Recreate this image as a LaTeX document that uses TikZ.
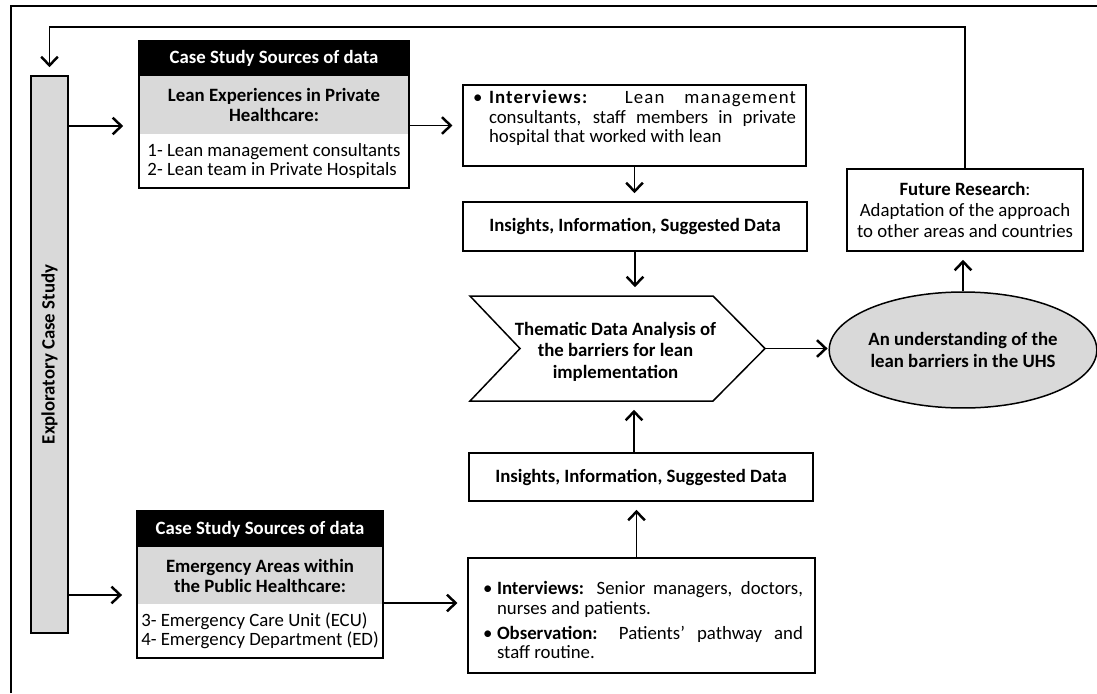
\documentclass[tikz,border=0pt]{standalone}
\usepackage{fontspec}
\setmainfont{Carlito}
\usetikzlibrary{arrows.meta,shapes.geometric,calc}
\definecolor{lg}{HTML}{D9D9D9}
\begin{document}
\begin{tikzpicture}[x=0.02cm,y=-0.02cm,
  every node/.style={font=\fontsize{10.7}{11}\selectfont},
  bfnt/.style={font=\fontsize{10.7}{11}\selectfont\bfseries},
  bfwide/.style={font=\fontsize{10.7}{12.2}\selectfont\bfseries},
  rect/.style n args={4}{at={({(#1+#3)/2},{(#2+#4)/2})}, minimum width={(#3-#1)*0.02cm}, minimum height={(#4-#2)*0.02cm}, inner sep=0pt, outer sep=0pt},
  box/.style={draw, line width=0.85pt},
  hdr/.style={fill=black, text=white, bfnt},
  greyb/.style={fill=lg, align=center, font=\fontsize{10.7}{11.4}\selectfont\bfseries},
  bultext/.style={anchor=north, inner sep=0pt, align=justify, font=\fontsize{10.7}{11.2}\selectfont},
  arr/.style={line width=0.85pt, -{Straight Barb[length=5pt,width=9.5pt,line width=1.4pt]}, shorten >=5pt}
]
\useasboundingbox (0,0) rectangle (1097,693);
% outer frame
\draw[line width=1.2pt] (11,693) -- (11,6) -- (1097,6);

% vertical bar
\node[box, fill=lg, rect={31}{76}{68}{633}] (bar) {};
\node[rotate=90, bfnt] (barlabel) at (bar.center) {Exploratory Case Study};

% case study box 1
\node[hdr, rect={139}{41}{409}{76}] (c1h) {Case Study Sources of data};
\node[greyb, rect={139}{76}{409}{134}] (c1g) {Lean Experiences in Private\\Healthcare:};
\node[align=left, rect={139}{134}{409}{188}] (c1l) {1- Lean management consultants\\2- Lean team in Private Hospitals};
\node[box, rect={139}{41}{409}{188}] (case1) {};

% case study box 2
\node[hdr, rect={137}{511}{383}{547}] (c2h) {Case Study Sources of data};
\node[greyb, rect={137}{547}{383}{604}] (c2g) {Emergency Areas within\\the Public Healthcare:};
\node[align=left, rect={137}{604}{383}{658}] (c2l) {3- Emergency Care Unit (ECU)\\4- Emergency Department (ED)};
\node[box, rect={137}{511}{383}{658}] (case2) {};

% interviews 1
\node[box, rect={463}{85}{806}{166}] (int1) {};
\node[bultext, text width=6.46cm] (int1txt) at ($(int1.north)+(0,5)$)
 {\leftskip=0.32cm\noindent\llap{\makebox[0.32cm][l]{\textbullet}}{\addfontfeature{LetterSpace=6}\textbf{Interviews:} Lean management}\linebreak consultants, staff members in private\linebreak hospital that worked with lean\par};

% interviews 2
\node[box, rect={468}{558}{815}{673}] (int2) {};
\node[bultext, text width=6.4cm] (int2txt) at ($(int2.north)+(1.5,23)$)
 {\leftskip=0.28cm\noindent\llap{\makebox[0.28cm][l]{\textbullet}}\textbf{Interviews:} Senior managers, doctors,\linebreak nurses and patients.\par\vspace{3pt}
  \noindent\llap{\makebox[0.28cm][l]{\textbullet}}\textbf{Observation:} Patients' pathway and\linebreak staff routine.\par};

% insights
\node[box, rect={463}{202}{807}{251}, bfnt] (ins1) {Insights, Information, Suggested Data};
\node[box, rect={469}{453}{813}{501}, bfnt] (ins2) {Insights, Information, Suggested Data};

% thematic data analysis chevron
\node[rect={470}{296}{765}{401}] (tda) {};
\node[align=center, bfwide, inner sep=0pt] (tdatxt) at ($(tda.center)+(-2,3)$) {Thematic Data Analysis of\\the barriers for lean\\implementation};
\draw[line width=0.85pt] (tda.north west) -- ([xshift=-1.04cm]tda.north east) -- (tda.east)
  -- ([xshift=-1.04cm]tda.south east) -- (tda.south west) -- ([xshift=1cm]tda.west) -- cycle;

% ellipse
\node[ellipse, draw, line width=0.85pt, fill=lg, minimum width=5.02cm, minimum height=2.32cm, inner sep=0pt, align=center, bfwide] (ell) at (963,350) {An understanding of the\\lean barriers in the UHS};

% future research
\node[box, rect={847}{169}{1083}{251}, align=center, font=\fontsize{10.7}{12}\selectfont] (fut) {\textbf{Future Research}:\\Adaptation of the approach\\to other areas and countries};

% connectors
\coordinate (b1) at ($(bar.east |- case1.west)+(0,11.5)$);
\draw[arr, shorten >=9pt] (b1) -- (b1 -| case1.west);
\draw[arr, shorten >=6pt] (case1.east |- int1.west) -- (int1.west);
\draw[arr] (int1.south) -- (int1.south |- ins1.north);
\draw[arr] (ins1.south) -- (ins1.south |- tda.north);
\draw[arr, shorten >=0.5pt] (tda.east) -- (tda.east -| ell.west);
\draw[arr] (ell.north) -- (ell.north |- fut.south);
\coordinate (fbc) at (bar.north |- 0,27);
\draw[arr] (fut.north) |- (fbc) -- (bar.north);

\coordinate (b2) at ($(bar.east |- case2.west)+(0,10.5)$);
\draw[arr, shorten >=8.5pt] (b2) -- (b2 -| case2.west);
\coordinate (c2o) at ($(case2.east)+(0,18.5)$);
\draw[arr, shorten >=6pt] (c2o) -- (c2o -| int2.west);
\coordinate (i2o) at ($(int2.north)+(-5,0)$);
\draw[arr] (i2o) -- (i2o |- ins2.south);
\coordinate (i2n) at ($(ins2.north)+(-7,0)$);
\draw[arr] (i2n) -- (i2n |- tda.south);
\end{tikzpicture}
\end{document}
